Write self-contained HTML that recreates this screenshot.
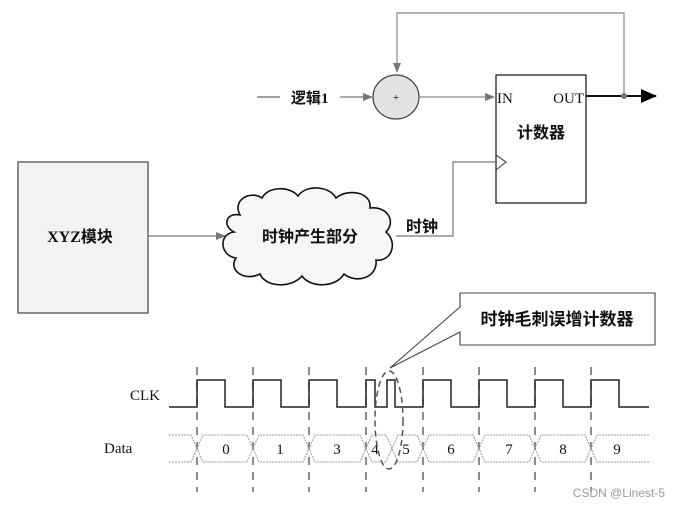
<!DOCTYPE html>
<html><head><meta charset="utf-8"><style>
html,body{margin:0;padding:0;background:#fff}
svg{display:block}
text{font-family:"Liberation Serif","Noto Serif CJK SC",serif;fill:#111}
.b{font-family:"Liberation Serif","Noto Sans CJK SC",sans-serif;font-weight:bold}
</style></head><body>
<svg width="679" height="508" viewBox="0 0 679 508" xmlns="http://www.w3.org/2000/svg">
<defs>
<marker id="ag" markerWidth="10" markerHeight="10" refX="9" refY="5" orient="auto" markerUnits="userSpaceOnUse"><path d="M0,1 L10,5 L0,9 z" fill="#777"/></marker>
<marker id="ak" markerWidth="16" markerHeight="14" refX="15" refY="7" orient="auto" markerUnits="userSpaceOnUse"><path d="M0,0 L16,7 L0,14 z" fill="#000"/></marker>
</defs>
<polyline points="624,96 624,13 397,13 397,72" fill="none" stroke="#888" stroke-width="1.2" marker-end="url(#ag)"/>
<line x1="257" y1="97" x2="280" y2="97" stroke="#666" stroke-width="1.2"/>
<text x="291" y="103" class="b" font-size="15">逻辑1</text>
<line x1="340" y1="97" x2="372" y2="97" stroke="#777" stroke-width="1.2" marker-end="url(#ag)"/>
<ellipse cx="396" cy="97" rx="23" ry="22" fill="#e2e2e2" stroke="#444" stroke-width="1.2"/>
<text x="396" y="101" font-size="11" text-anchor="middle">+</text>
<line x1="419" y1="97" x2="494" y2="97" stroke="#888" stroke-width="1.2" marker-end="url(#ag)"/>
<rect x="496" y="75" width="90" height="128" fill="#fff" stroke="#222" stroke-width="1.3"/>
<text x="497" y="103" font-size="15">IN</text>
<text x="584" y="103" font-size="15" text-anchor="end">OUT</text>
<text x="541" y="138" class="b" font-size="16" text-anchor="middle">计数器</text>
<polyline points="496,155 506,162 496,170" fill="none" stroke="#444" stroke-width="1.1"/>
<line x1="586" y1="96" x2="656" y2="96" stroke="#111" stroke-width="2" marker-end="url(#ak)"/>
<circle cx="624" cy="96" r="3" fill="#777"/>
<rect x="18" y="162" width="130" height="151" fill="#f3f3f3" stroke="#444" stroke-width="1.2"/>
<text x="80" y="242" class="b" font-size="16" text-anchor="middle">XYZ模块</text>
<line x1="148" y1="236" x2="225" y2="236" stroke="#777" stroke-width="1.2" marker-end="url(#ag)"/>
<path d="M240,215 C232,200 250,190 262,198 C268,186 290,186 298,196 C306,184 330,186 336,198 C348,188 372,192 370,208 C388,206 396,222 386,232 C398,242 392,262 376,260 C378,278 356,284 344,274 C336,288 310,288 302,276 C292,288 266,288 260,274 C244,282 228,270 236,258 C220,256 218,234 234,232 C222,226 226,212 240,215 Z" fill="#f6f6f6" stroke="#111" stroke-width="1.6"/>
<text x="310" y="242" class="b" font-size="16" text-anchor="middle">时钟产生部分</text>
<text x="406" y="232" class="b" font-size="16">时钟</text>
<polyline points="396,236 453,236 453,162 496,162" fill="none" stroke="#777" stroke-width="1.2"/>
<path d="M460,293 H655 V345 H460 V332 L390,368 L460,307 Z" fill="#fff" stroke="#444" stroke-width="1.1"/>
<text x="557" y="325" class="b" font-size="17" text-anchor="middle">时钟毛刺误增计数器</text>
<g stroke="#666" stroke-width="1.5" stroke-dasharray="8,7">
<line x1="197" y1="367" x2="197" y2="492"/><line x1="253" y1="367" x2="253" y2="492"/>
<line x1="309" y1="367" x2="309" y2="492"/><line x1="366" y1="367" x2="366" y2="492"/>
<line x1="423" y1="367" x2="423" y2="492"/><line x1="479" y1="367" x2="479" y2="492"/>
<line x1="535" y1="367" x2="535" y2="492"/><line x1="591" y1="367" x2="591" y2="492"/>
</g>
<text x="130" y="400" font-size="15">CLK</text>
<polyline points="169,407 197,407 197,380 225,380 225,407 253,407 253,380 281,380 281,407 309,407 309,380 337,380 337,407 366,407 366,380 375,380 375,407 387,407 387,380 395,380 395,407 423,407 423,380 451,380 451,407 479,407 479,380 507,380 507,407 535,407 535,380 563,380 563,407 591,407 591,380 619,380 619,407 649,407" fill="none" stroke="#222" stroke-width="1.5"/>
<text x="104" y="453" font-size="15">Data</text>
<g fill="none" stroke="#999" stroke-width="1" stroke-dasharray="2,1">
<polyline points="169,435 191,435 203,462 247,462 259,435 303,435 315,462 360,462 372,435 386,435 398,462 417,462 429,435 473,435 485,462 529,462 541,435 585,435 597,462 649,462"/>
<polyline points="169,462 191,462 203,435 247,435 259,462 303,462 315,435 360,435 372,462 386,462 398,435 417,435 429,462 473,462 485,435 529,435 541,462 585,462 597,435 649,435"/>
</g>
<g font-size="15" text-anchor="middle">
<text x="226" y="454">0</text><text x="280" y="454">1</text><text x="337" y="454">3</text>
<text x="375" y="454">4</text><text x="406" y="454">5</text><text x="451" y="454">6</text>
<text x="509" y="454">7</text><text x="563" y="454">8</text><text x="617" y="454">9</text>
</g>
<ellipse cx="389" cy="420" rx="14" ry="49" fill="none" stroke="#555" stroke-width="1.5" stroke-dasharray="6,4"/>
<text x="665" y="497" font-size="12" text-anchor="end" style="fill:#999;font-family:'Liberation Sans',sans-serif">CSDN @Linest-5</text>
</svg>
</body></html>
